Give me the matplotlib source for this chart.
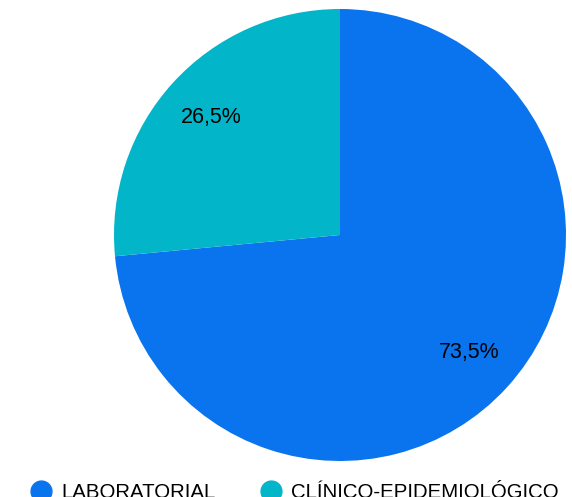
import matplotlib
matplotlib.use("Agg")
import matplotlib.pyplot as plt
from matplotlib.lines import Line2D

plt.rcParams['font.family'] = ['Liberation Sans', 'DejaVu Sans']

categories = ['LABORATORIAL', 'CLÍNICO-EPIDEMIOLÓGICO']
values = [73.5, 26.5]
colors = ['#0a73ee', '#03b5c9']

fig = plt.figure(figsize=(5.72, 4.97), dpi=100)
W, H = 572, 497
cx, cy, r = 340, 235, 226
ax = fig.add_axes([(cx - r) / W, (H - cy - r) / H, 2 * r / W, 2 * r / H])

ax.pie(values, colors=colors, startangle=90, counterclock=False,
       autopct=lambda p: f'{p:.1f}%'.replace('.', ','), pctdistance=0.77,
       textprops={'fontsize': 15.5, 'color': 'black'},
       wedgeprops={'linewidth': 0})
ax.set_xlim(-1, 1)
ax.set_ylim(-1, 1)
ax.set_aspect('equal')
ax.axis('off')

handles = [Line2D([], [], marker='o', linestyle='none', markersize=15,
                  markerfacecolor=c, markeredgecolor=c) for c in colors]
fig.legend(handles, categories, loc='center left',
           bbox_to_anchor=(30.8 / W, (H - 493) / H), ncol=2, frameon=False,
           fontsize=14.7, handlelength=1.0, handletextpad=0.48,
           columnspacing=2.22, borderpad=0, borderaxespad=0)

fig.savefig('out.png', dpi=100)
